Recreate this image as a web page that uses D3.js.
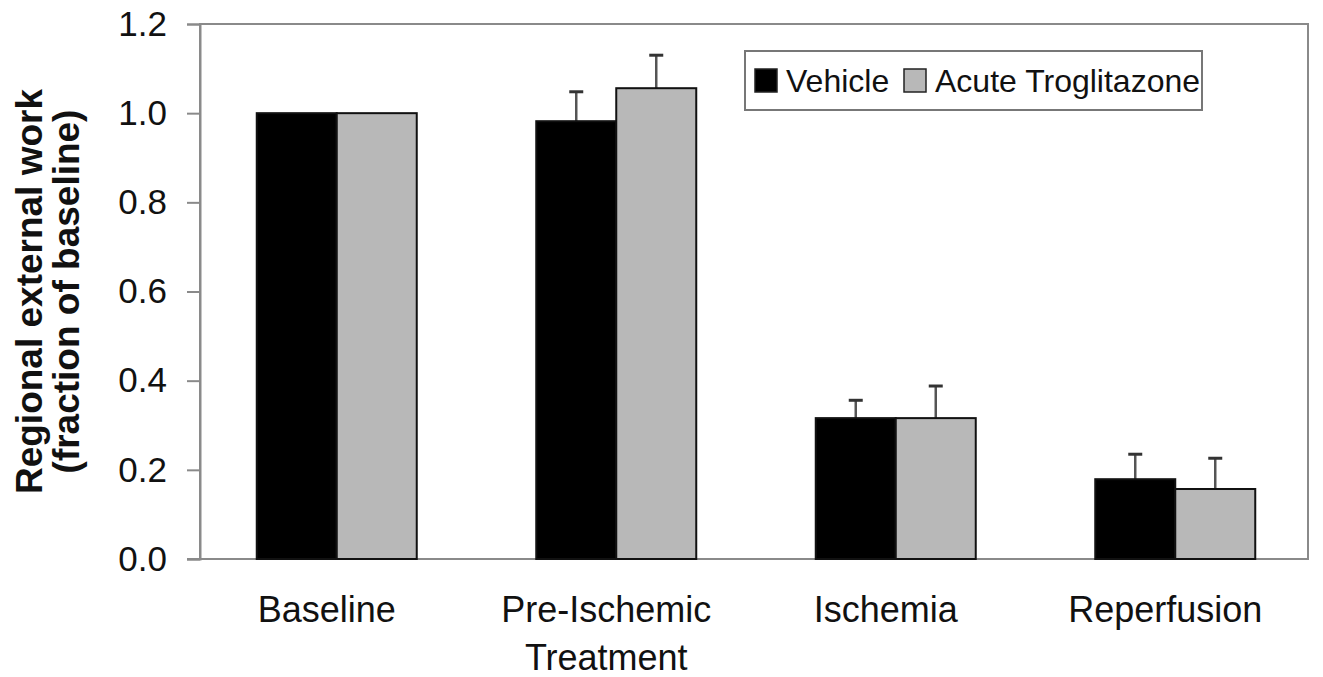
<!DOCTYPE html>
<html>
<head>
<meta charset="utf-8">
<script src="https://cdn.jsdelivr.net/npm/d3@7"></script>
<style>
  body { margin: 0; background: #fff; }
  svg { font-family: "Liberation Sans", Arial, sans-serif; }
</style>
</head>
<body>
<div id="chart"></div>
<script>
const categories = [['Baseline'], ['Pre-Ischemic', 'Treatment'], ['Ischemia'], ['Reperfusion']];
const seriesNames = ['Vehicle', 'Acute Troglitazone'];
const vehicle = [1.0, 0.982, 0.316, 0.179];
const vehicleErr = [0, 0.066, 0.040, 0.056];
const trog = [1.0, 1.056, 0.316, 0.157];
const trogErr = [0, 0.074, 0.072, 0.069];
const yTicks = [0, 0.2, 0.4, 0.6, 0.8, 1.0, 1.2];

const width = 1323;
const height = 677;
const colors = ['#000000', '#b8b8b8'];

const plot = { left: 200, right: 1308, top: 24, bottom: 559 };

const svg = d3.select('#chart')
  .append('svg')
    .attr('width', width)
    .attr('height', height);

const x = d3.scaleBand()
    .domain(d3.range(categories.length))
    .range([197, 1315])
    .paddingInner(0)
    .paddingOuter(0);

const xInner = d3.scaleBand()
    .domain([0, 1])
    .range([x.bandwidth() / 2 - 80, x.bandwidth() / 2 + 80]);

const y = d3.scaleLinear()
    .domain([0, 1.2])
    .range([plot.bottom, plot.top]);

// plot frame
svg.append('rect')
    .attr('x', plot.left)
    .attr('y', plot.top)
    .attr('width', plot.right - plot.left)
    .attr('height', plot.bottom - plot.top)
    .attr('fill', 'none')
    .attr('stroke', '#8a8a8a')
    .attr('stroke-width', 2);

// y axis
const yAxis = svg.append('g')
    .attr('transform', `translate(${plot.left},0)`)
    .call(d3.axisLeft(y).tickValues(yTicks).tickFormat(d3.format('.1f')).tickSize(13).tickPadding(20));
yAxis.select('.domain').attr('stroke', '#8a8a8a').attr('stroke-width', 2);
yAxis.selectAll('.tick line').attr('stroke', '#8a8a8a').attr('stroke-width', 2);
yAxis.selectAll('.tick text')
    .attr('font-size', 35)
    .attr('fill', '#111')
    .attr('font-family', '"Liberation Sans", Arial, sans-serif');

// bottom axis line
svg.append('line')
    .attr('x1', 187).attr('x2', plot.right)
    .attr('y1', plot.bottom).attr('y2', plot.bottom)
    .attr('stroke', '#8a8a8a')
    .attr('stroke-width', 2);

const rows = categories.map(function (c, i) {
  return [
    { i: i, s: 0, v: vehicle[i], e: vehicleErr[i] },
    { i: i, s: 1, v: trog[i], e: trogErr[i] }
  ];
});

const groups = svg.append('g').selectAll('g')
    .data(rows)
  .join('g')
    .attr('transform', function (d, i) { return `translate(${x(i)},0)`; });

// error bars (drawn first, so bar tops cover the stem)
groups.selectAll('.err')
    .data(function (d) { return d.filter(function (b) { return b.e > 0; }); })
  .join('g')
    .attr('class', 'err')
    .each(function (d) {
      const g = d3.select(this);
      const cx = xInner(d.s) + xInner.bandwidth() / 2;
      g.append('line')
          .attr('x1', cx).attr('x2', cx)
          .attr('y1', y(d.v)).attr('y2', y(d.v + d.e))
          .attr('stroke', '#555')
          .attr('stroke-width', 2.5);
      g.append('line')
          .attr('x1', cx - 7).attr('x2', cx + 7)
          .attr('y1', y(d.v + d.e)).attr('y2', y(d.v + d.e))
          .attr('stroke', '#333')
          .attr('stroke-width', 3);
    });

groups.selectAll('rect')
    .data(function (d) { return d; })
  .join('rect')
    .attr('x', function (d) { return xInner(d.s); })
    .attr('y', function (d) { return y(d.v); })
    .attr('width', xInner.bandwidth())
    .attr('height', function (d) { return y(0) - y(d.v); })
    .attr('fill', function (d) { return colors[d.s]; })
    .attr('stroke', '#111')
    .attr('stroke-width', 2);

// category labels (sit a little left of the bar pairs, as in the source)
svg.append('g').selectAll('text')
    .data(categories)
  .join('text')
    .attr('x', function (d, i) { return x(i) + x.bandwidth() / 2 - 10; })
    .attr('y', 622)
    .attr('text-anchor', 'middle')
    .attr('font-size', 36)
    .attr('fill', '#111')
    .each(function (d) {
      d3.select(this).selectAll('tspan')
          .data(d)
        .join('tspan')
          .attr('x', d3.select(this).attr('x'))
          .attr('dy', function (t, j) { return j === 0 ? 0 : 48; })
          .text(function (t) { return t; });
    });

// y title
const title = svg.append('text')
    .attr('transform', `translate(0,${(plot.top + plot.bottom) / 2}) rotate(-90)`)
    .attr('text-anchor', 'middle')
    .attr('font-size', 37)
    .attr('font-weight', 'bold')
    .attr('fill', '#111');
title.append('tspan').attr('x', 0).attr('y', 42).text('Regional external work');
title.append('tspan').attr('x', 0).attr('y', 79).text('(fraction of baseline)');

// legend
const legend = svg.append('g').attr('transform', 'translate(745,51)');
legend.append('rect')
    .attr('width', 457)
    .attr('height', 59)
    .attr('fill', '#fff')
    .attr('stroke', '#777')
    .attr('stroke-width', 2);

const legendX = [10, 159];
const items = legend.selectAll('.item')
    .data(seriesNames)
  .join('g')
    .attr('class', 'item')
    .attr('transform', function (d, i) { return `translate(${legendX[i]},18)`; });
items.append('rect')
    .attr('width', 22)
    .attr('height', 23)
    .attr('fill', function (d, i) { return colors[i]; })
    .attr('stroke', '#222')
    .attr('stroke-width', 1.5);
items.append('text')
    .attr('x', 31)
    .attr('y', 23)
    .attr('font-size', 32)
    .attr('fill', '#111')
    .text(function (d) { return d; });
</script>
</body>
</html>
